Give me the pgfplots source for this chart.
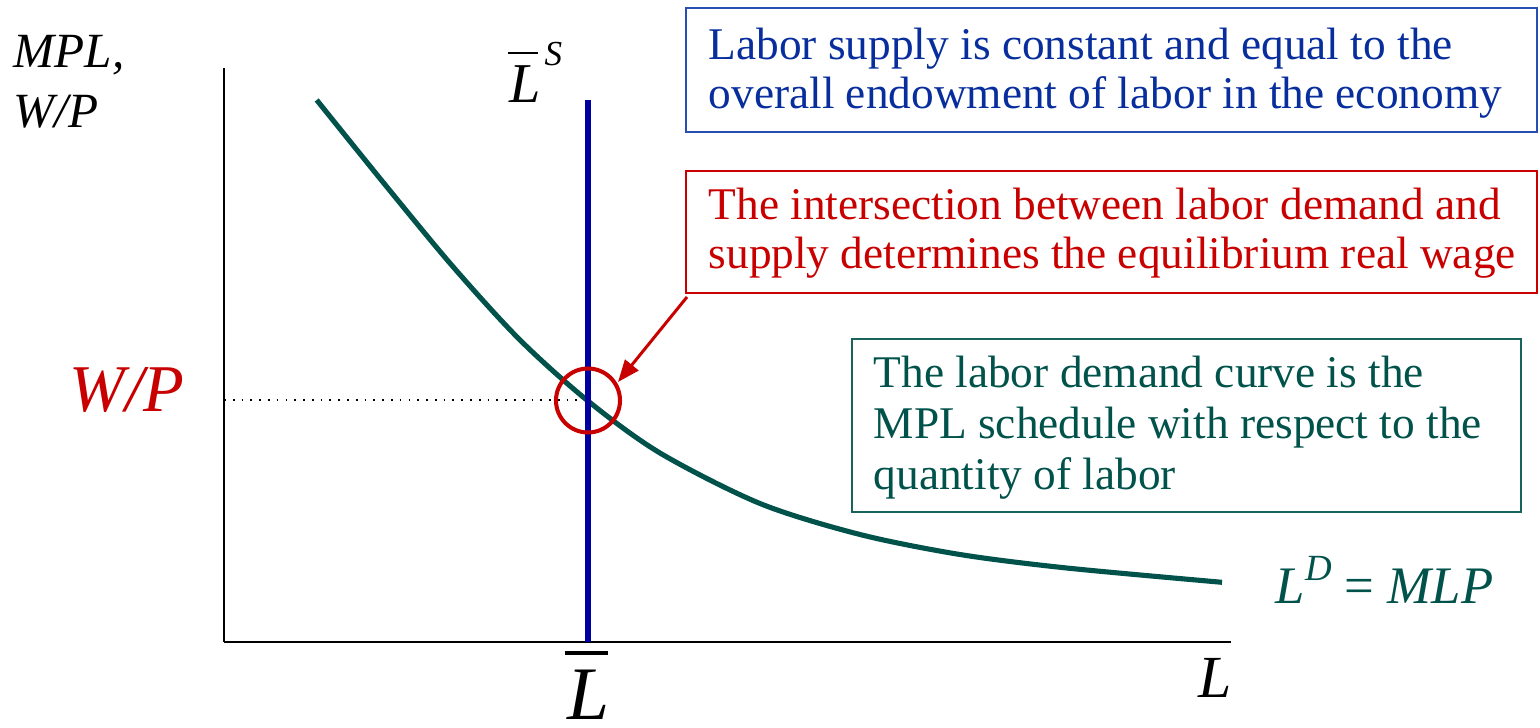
\documentclass[border=0pt]{standalone}
\usepackage{pgfplots}
\pgfplotsset{compat=1.18}
\usepackage{fontspec}
\setmainfont{Liberation Serif}
\usetikzlibrary{arrows.meta}
\definecolor{bluetext}{RGB}{8,46,158}
\definecolor{blueborder}{RGB}{40,78,178}
\definecolor{supply}{RGB}{0,0,160}
\definecolor{redc}{RGB}{200,0,0}
\definecolor{teal}{RGB}{0,82,74}
\definecolor{tealborder}{RGB}{24,100,92}
\begin{document}
\begin{tikzpicture}
\begin{axis}[
  scale only axis,
  width=100.7mm, height=57.4mm,
  xmin=224, xmax=1231, ymin=-642, ymax=-68,
  axis lines=left,
  axis line style={black, line width=0.5pt, -},
  ticks=none,
  clip=false,
]
% invisible frame fixing the picture size (1540 x 727 units)
\path (axis cs:0,-727) rectangle (axis cs:1540,0);

% labour demand curve (MPL)
\addplot[teal, line width=1.45pt, smooth] coordinates {
  (316.7,-100) (386.7,-186.7) (453,-266.7) (520,-340) (588,-401)
  (660,-453) (760,-503.5) (860,-534.5) (960,-554.5) (1066.7,-568)
  (1222,-582.3)
};
% labour supply (vertical)
\addplot[supply, line width=1.45pt] coordinates {(588,-100) (588,-642)};
% equilibrium wage (dotted)
\addplot[black, dotted, line width=0.5pt] coordinates {(224,-400) (582,-400)};
% red circle at the equilibrium
\addplot[only marks, mark=o, mark size=3.2mm,
  mark options={draw=redc, line width=1.15pt, fill=none}] coordinates {(588,-400.5)};

% arrow from the red box to the circle
\draw[redc, line width=0.85pt, -{Triangle[length=2.2mm,width=1.7mm]}]
  (axis cs:687,-297) -- (axis cs:618,-382);

% axis labels
\node[anchor=base west, inner sep=0pt, font=\fontsize{14}{14}\selectfont\itshape] at (axis cs:13,-68) {MPL,};
\node[anchor=base west, inner sep=0pt, font=\fontsize{14}{14}\selectfont\itshape] at (axis cs:13,-128) {W/P};
\node[anchor=base west, inner sep=0pt, font=\fontsize{17}{17}\selectfont\itshape] at (axis cs:1198,-697) {L};
\node[anchor=base west, inner sep=0pt, font=\fontsize{19}{19}\selectfont\itshape, text=redc] at (axis cs:69,-411) {W/P};

% L bar below the axis
\draw[black, line width=1.1pt] (axis cs:565,-653) -- (axis cs:608,-653);
\node[anchor=base west, inner sep=0pt, font=\fontsize{21.5}{21.5}\selectfont\itshape] at (axis cs:567,-719) {L};

% L bar ^S above the supply line
\draw[black, line width=0.6pt] (axis cs:508,-53) -- (axis cs:538,-53);
\node[anchor=base west, inner sep=0pt, font=\fontsize{16}{16}\selectfont\itshape] at (axis cs:509,-103) {L};
\node[anchor=base west, inner sep=0pt, font=\fontsize{10}{10}\selectfont\itshape] at (axis cs:544,-66) {S};

% L^D = MLP
\node[anchor=base west, inner sep=0pt, font=\fontsize{15}{15}\selectfont\itshape, text=teal] at (axis cs:1275,-603)
  {L\raisebox{0.42em}{\fontsize{10.5}{10.5}\selectfont D}\hspace{0.25em}{\upshape =}\hspace{0.25em}MLP};

% blue box
\draw[blueborder, line width=0.6pt] (axis cs:686,-8) rectangle (axis cs:1537,-132);
\node[anchor=base west, inner sep=0pt, font=\fontsize{12.9}{13.9}\selectfont, text=bluetext] at (axis cs:708,-60)
  {Labor supply is constant and equal to the};
\node[anchor=base west, inner sep=0pt, font=\fontsize{12.9}{13.9}\selectfont, text=bluetext] at (axis cs:708,-109)
  {overall endowment of labor in the economy};

% red box
\draw[redc, line width=0.6pt] (axis cs:686,-171) rectangle (axis cs:1537,-293);
\node[anchor=base west, inner sep=0pt, font=\fontsize{12.9}{13.9}\selectfont, text=redc] at (axis cs:708,-220)
  {The intersection between labor demand and};
\node[anchor=base west, inner sep=0pt, font=\fontsize{12.9}{13.9}\selectfont, text=redc] at (axis cs:708,-269)
  {supply determines the equilibrium real wage};

% green box
\draw[tealborder, line width=0.6pt] (axis cs:852,-339) rectangle (axis cs:1521,-512);
\node[anchor=base west, inner sep=0pt, font=\fontsize{12.9}{13.9}\selectfont, text=teal] at (axis cs:873,-387)
  {The labor demand curve is the};
\node[anchor=base west, inner sep=0pt, font=\fontsize{12.9}{13.9}\selectfont, text=teal] at (axis cs:873,-438)
  {MPL schedule with respect to the};
\node[anchor=base west, inner sep=0pt, font=\fontsize{12.9}{13.9}\selectfont, text=teal] at (axis cs:873,-489)
  {quantity of labor};
\end{axis}
\end{tikzpicture}
\end{document}
